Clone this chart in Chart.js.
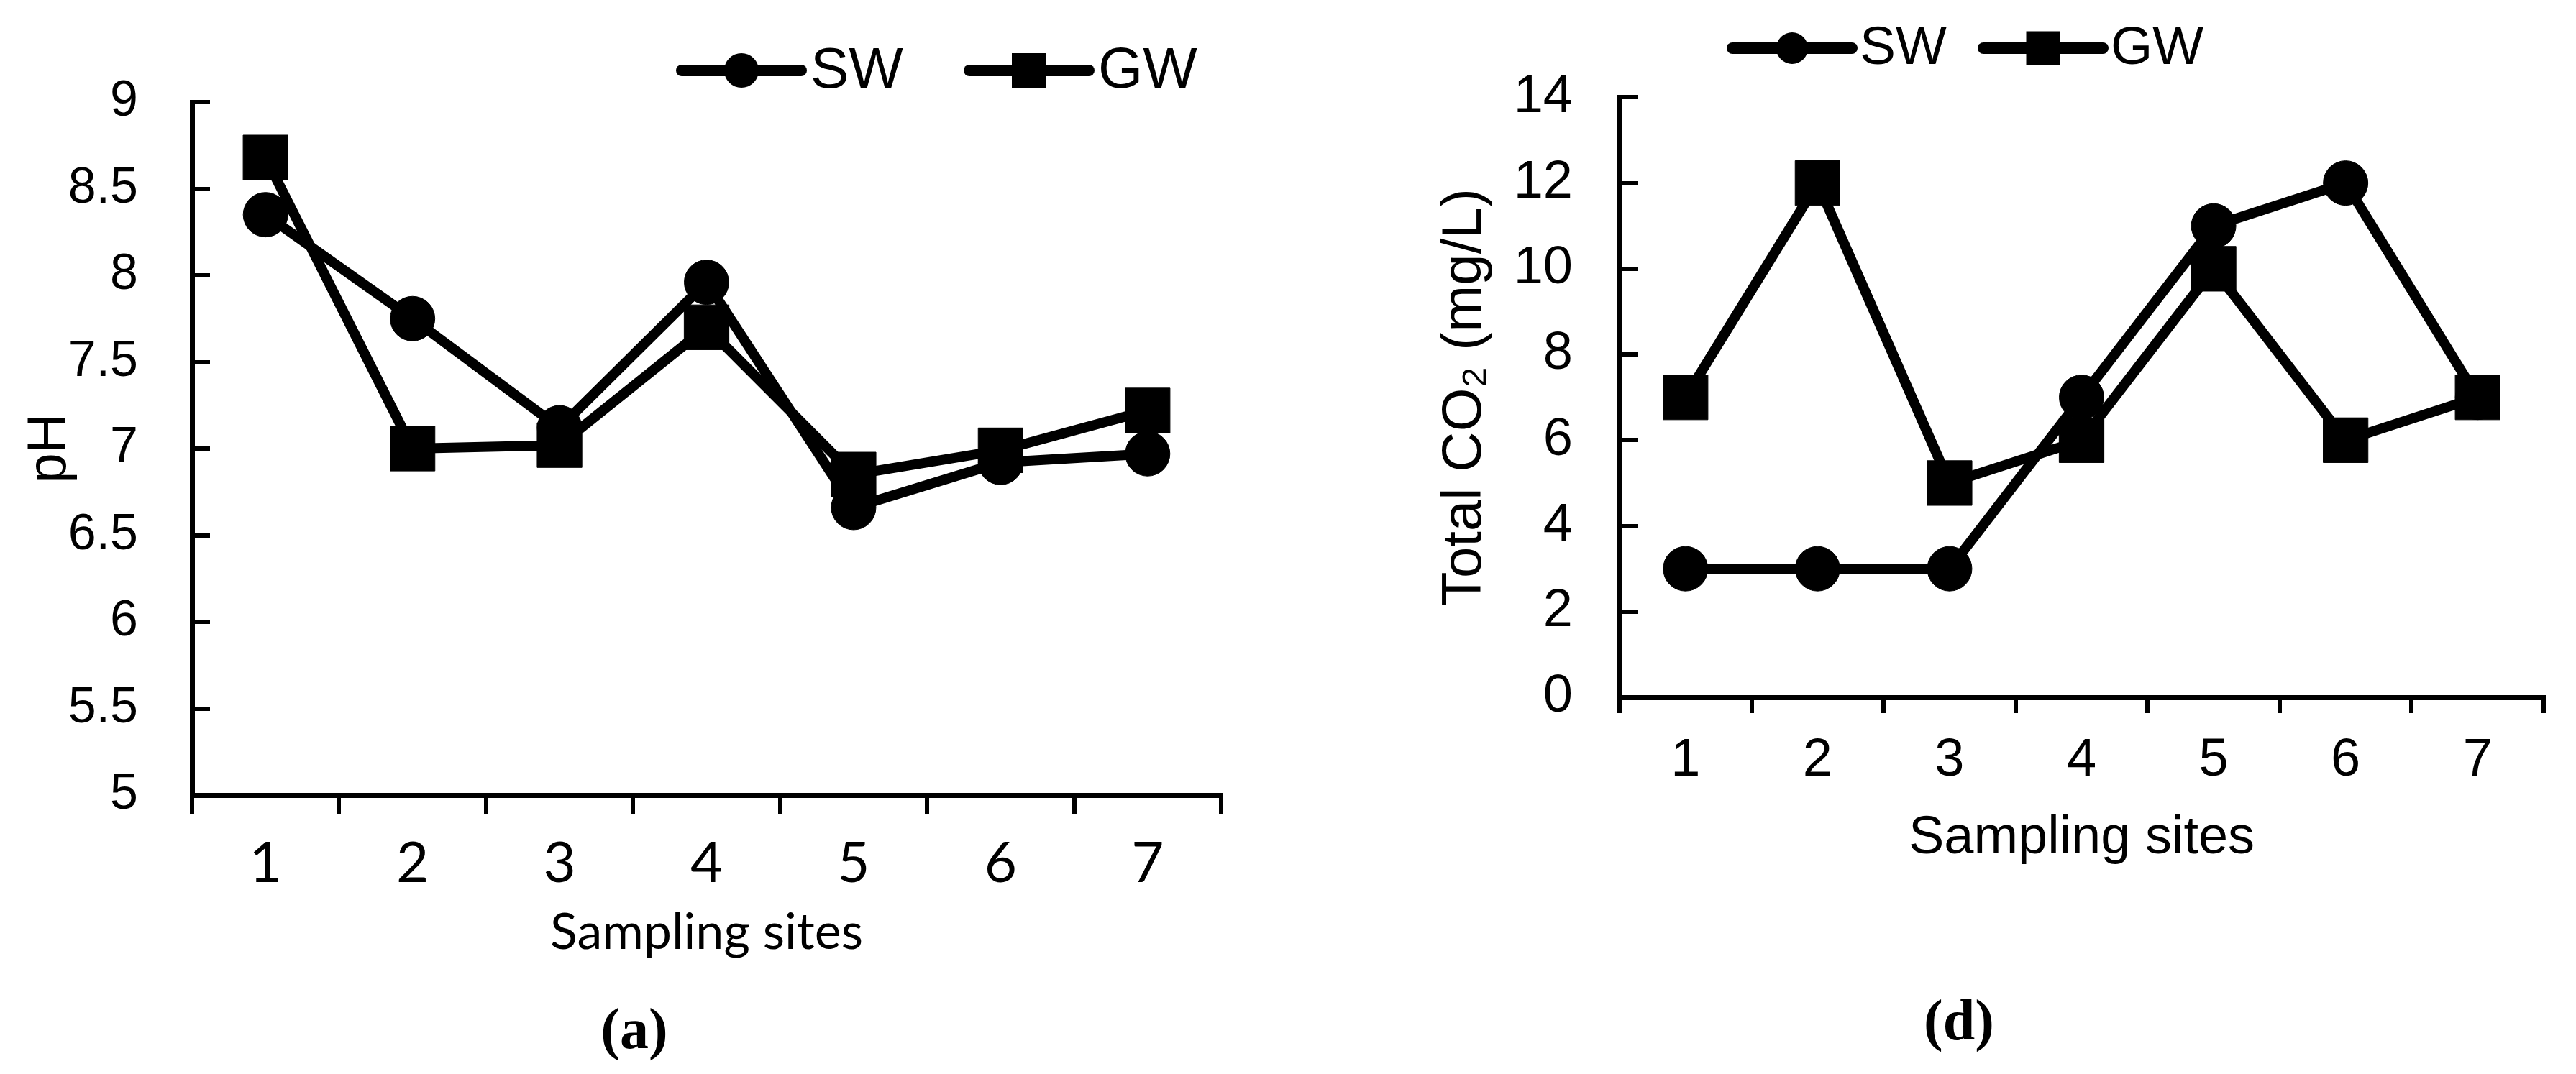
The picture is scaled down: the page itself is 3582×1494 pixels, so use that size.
<!DOCTYPE html>
<html>
<head>
<meta charset="UTF-8">
<title>pH and total CO2 at the sampling sites</title>
<script src="https://cdn.jsdelivr.net/npm/chart.js@4.4.0/dist/chart.umd.min.js"></script>
<style>
  html, body { margin: 0; padding: 0; background: #fff; }
  body { width: 3582px; height: 1494px; position: relative; overflow: hidden; }
  .panel { position: absolute; top: 0; }
  .cap { position: absolute; font-family: 'Liberation Serif', 'Times New Roman', serif; font-weight: bold;
         font-size: 80px; line-height: 1; color: #000; transform: translate(-50%, -50%); white-space: nowrap; }
</style>
</head>
<body>
	<div class="panel" style="left:0"><canvas id="phChart" width="1790" height="1494"></canvas></div>
	<div class="panel" style="left:1790px"><canvas id="co2Chart" width="1792" height="1494"></canvas></div>
	<div class="cap" style="left:882px;top:1431px">(a)</div>
	<div class="cap" style="left:2724px;top:1419px">(d)</div>

	<script>
		// data
		const sites = ['1', '2', '3', '4', '5', '6', '7'];
		const seriesNames = ['SW', 'GW'];
		const phSW = [8.35, 7.75, 7.12, 7.96, 6.66, 6.92, 6.97];
		const phGW = [8.68, 7.0, 7.02, 7.7, 6.85, 6.99, 7.22];
		const co2SW = [3, 3, 3, 7, 11, 12, 7];
		const co2GW = [7, 12, 5, 6, 10, 6, 7];

		const ARIAL = "'Liberation Sans', Arial, sans-serif";
		const CALIBRI = "Lato, 'Liberation Sans', sans-serif";

		// legend: line with marker in the middle, label to the right
		const seriesKey = {
			id: 'seriesKey',
			afterDatasetsDraw(chart, args, opts) {
				const ctx = chart.ctx;
				ctx.save();
				chart.data.datasets.forEach((ds, i) => {
					const x0 = opts.x + i * opts.stride;
					const cx = x0 + opts.lineLength / 2;
					ctx.strokeStyle = ds.borderColor;
					ctx.fillStyle = ds.pointBackgroundColor;
					ctx.lineWidth = opts.lineWidth;
					ctx.lineCap = 'round';
					ctx.beginPath();
					ctx.moveTo(x0, opts.y);
					ctx.lineTo(x0 + opts.lineLength, opts.y);
					ctx.stroke();
					ctx.beginPath();
					if (ds.pointStyle === 'rect') {
						const h = opts.squareSide / 2;
						ctx.rect(cx - h, opts.y - h, 2 * h, 2 * h);
					} else {
						ctx.arc(cx, opts.y, opts.circleRadius, 0, Math.PI * 2);
					}
					ctx.fill();
					ctx.font = opts.font;
					ctx.textAlign = 'left';
					ctx.textBaseline = 'alphabetic';
					ctx.fillStyle = '#000';
					ctx.fillText(ds.label, x0 + opts.lineLength + opts.gap, opts.y + opts.textDy);
				});
				ctx.restore();
			}
		};

		function makeSets(sw, gw) {
			const common = {
				borderColor: '#000', backgroundColor: '#000',
				pointBackgroundColor: '#000', pointBorderColor: '#000', pointBorderWidth: 1,
				borderWidth: 14, borderJoinStyle: 'round', borderCapStyle: 'round',
				tension: 0, fill: false, clip: false
			};
			return [
				Object.assign({ label: seriesNames[0], data: sw, pointStyle: 'circle', pointRadius: 31, pointHoverRadius: 31, order: 1 }, common),
				Object.assign({ label: seriesNames[1], data: gw, pointStyle: 'rect', pointRadius: 44, pointHoverRadius: 44, order: 0 }, common)
			];
		}

		function makeScales(o) {
			return {
				x: {
					type: 'category',
					offset: true,
					afterFit: (s) => { s.height = o.xHeight; },
					grid: { offset: true, drawOnChartArea: false, drawTicks: true, tickLength: o.xTick, color: '#000', lineWidth: 6 },
					border: { display: true, color: '#000', width: 7 },
					ticks: { color: '#000', font: o.xFont, padding: o.xPad, maxRotation: 0, autoSkip: false },
					title: { display: true, text: 'Sampling sites', color: '#000', font: o.xTitleFont, padding: { top: 0, bottom: o.xTitlePad } }
				},
				y: {
					min: o.yMin, max: o.yMax,
					afterFit: (s) => { s.width = o.yWidth; },
					grid: { drawOnChartArea: false, drawTicks: true, tickLength: -o.yTick, color: '#000', lineWidth: 6 },
					border: { display: true, color: '#000', width: 7 },
					ticks: {
						stepSize: o.yStep, color: '#000', font: o.yFont, padding: o.yPad, autoSkip: false,
						callback: (v) => String(Number(v.toFixed(2)))
					},
					title: { display: true, text: o.yTitle, color: '#000', font: o.yTitleFont, padding: { top: o.yTitlePad, bottom: 0 } }
				}
			};
		}

		function baseOptions(layoutPad, scales, key) {
			return {
				responsive: false,
				animation: false,
				events: [],
				layout: { padding: layoutPad },
				plugins: { legend: { display: false }, tooltip: { enabled: false }, seriesKey: key },
				scales: scales
			};
		}

		// (a) pH
		new Chart('phChart', {
			type: 'line',
			data: { labels: sites, datasets: makeSets(phSW, phGW) },
			options: baseOptions(
				{ left: 0, right: 92, top: 88, bottom: 0 },
				makeScales({
					xHeight: 388, xTick: 27, xPad: 22, xFont: { family: CALIBRI, size: 78 },
					xTitleFont: { family: CALIBRI, size: 70 }, xTitlePad: 155,
					yMin: 5, yMax: 9, yStep: 0.5, yWidth: 267, yTick: 25, yPad: 100,
					yFont: { family: ARIAL, size: 70 },
					yTitle: 'pH', yTitleFont: { family: ARIAL, size: 76 }, yTitlePad: 24
				}),
				{ x: 948, y: 98, stride: 400, lineLength: 166, gap: 13, lineWidth: 16,
				  circleRadius: 24, squareSide: 48, font: '80px ' + ARIAL, textDy: 24 }
			),
			plugins: [seriesKey]
		});

		// (d) total CO2
		new Chart('co2Chart', {
			type: 'line',
			data: { labels: sites, datasets: makeSets(co2SW, co2GW) },
			options: baseOptions(
				{ left: 0, right: 44, top: 82, bottom: 0 },
				makeScales({
					xHeight: 524, xTick: 22, xPad: 22, xFont: { family: ARIAL, size: 74 },
					xTitleFont: { family: ARIAL, size: 74 }, xTitlePad: 283,
					yMin: 0, yMax: 14, yStep: 2, yWidth: 462, yTick: 26, yPad: 91,
					yFont: { family: ARIAL, size: 74 },
					yTitle: 'Total CO\u2082 (mg/L)', yTitleFont: { family: ARIAL, size: 78 }, yTitlePad: 201
				}),
				{ x: 619, y: 67, stride: 349, lineLength: 166, gap: 11, lineWidth: 16,
				  circleRadius: 22, squareSide: 47, font: '75px ' + ARIAL, textDy: 22 }
			),
			plugins: [seriesKey]
		});
	</script>
</body>
</html>
